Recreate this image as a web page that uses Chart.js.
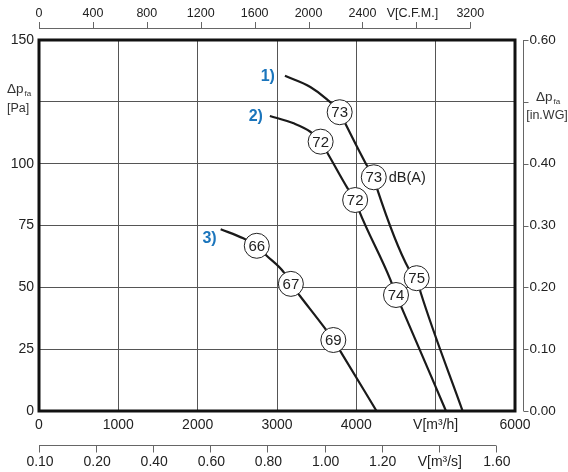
<!DOCTYPE html>
<html><head><meta charset="utf-8">
<script src="https://cdn.jsdelivr.net/npm/chart.js@4/dist/chart.umd.min.js"></script>
<style>html,body{margin:0;padding:0;background:#fff;}#wrap{width:568px;height:472px;}</style>
</head><body><div id="wrap"><canvas id="c" width="568" height="472"></canvas></div>
<script>
// ---- data (flow in m³/h, pressure in Pa) ----
const curve1Flow = [3100, 3420, 3630, 3790, 3880, 4120, 4220, 4260, 4660, 4760, 4810, 5340];
const curve1Pa   = [135.5, 131, 126, 120.8, 115, 100, 94.5, 90, 57.5, 53.7, 48, 0];
const curve2Flow = [2910, 3210, 3420, 3550, 3650, 3890, 3985, 4030, 4430, 4500, 4575, 5130];
const curve2Pa   = [119.3, 116.3, 112.9, 108.9, 103.5, 90, 85.3, 81.3, 53, 46.9, 41.5, 0];
const curve3Flow = [2290, 2575, 2745, 2870, 3080, 3175, 3290, 3605, 3710, 3815, 4255];
const curve3Pa   = [73.5, 69.8, 66.8, 62.8, 56.3, 51.4, 46.5, 33.4, 28.7, 23.3, 0];

const marker1Flow = [3790, 4220, 4760], marker1Pa = [120.8, 94.5, 53.7], marker1dB = [73, 73, 75];
const marker2Flow = [3550, 3985, 4500], marker2Pa = [108.9, 85.3, 46.9], marker2dB = [72, 72, 74];
const marker3Flow = [2745, 3175, 3710], marker3Pa = [66.8, 51.4, 28.7], marker3dB = [66, 67, 69];

const curveNames = ['1)', '2)', '3)'];
const dbUnitLabel = 'dB(A)';

// tick labels
const flowTicks = [0, 1000, 2000, 3000, 4000, 5000, 6000];
const flowLabels = ['0', '1000', '2000', '3000', '4000', 'V[m³/h]', '6000'];
const paTicks = [0, 25, 50, 75, 100, 125, 150];
const paLabels = ['0', '25', '50', '75', '100', '', '150'];
const cfmTicks = [0, 400, 800, 1200, 1600, 2000, 2400, 2800, 3200];
const cfmLabels = ['0', '400', '800', '1200', '1600', '2000', '2400', 'V[C.F.M.]', '3200'];
const m3sTicks = [0, 0.2, 0.4, 0.6, 0.8, 1.0, 1.2, 1.4, 1.6];
const m3sLabels = ['0.10', '0.20', '0.40', '0.60', '0.80', '1.00', '1.20', 'V[m³/s]', '1.60'];
const inwgTicks = [0, 0.1, 0.2, 0.3, 0.4, 0.5, 0.6];
const inwgLabels = ['0.00', '0.10', '0.20', '0.30', '0.40', '', '0.60'];

const CFM_TO_M3H = 1.699;
const M3S_TO_M3H = 3600;
const INWG_TO_PA = 250;

const FONT = '"Liberation Sans", Arial, Helvetica, sans-serif';
Chart.defaults.font.family = FONT;

const pts = (xs, ys) => xs.map((x, i) => ({x: x, y: ys[i]}));

const lineDs = (xs, ys) => ({
  data: pts(xs, ys), showLine: true, pointRadius: 0, borderColor: '#1a1a1a',
  borderWidth: 2.2, cubicInterpolationMode: 'monotone', fill: false, order: 2
});
const markDs = (xs, ys, dbs) => ({
  data: pts(xs, ys), dbs: dbs, showLine: false, pointRadius: 12.5, pointHoverRadius: 12.5,
  pointBackgroundColor: '#fff', pointBorderColor: '#222', pointBorderWidth: 1, order: 1, isMarker: true
});

const decor = {
  id: 'decor',
  afterDraw(chart) {
    const c = chart.ctx, a = chart.chartArea, X = chart.scales.x, Y = chart.scales.y;
    c.save();
    // frame
    c.strokeStyle = '#111'; c.lineWidth = 3;
    c.strokeRect(a.left, a.top, a.right - a.left, a.bottom - a.top);

    c.fillStyle = '#222';
    c.strokeStyle = '#666'; c.lineWidth = 1;
    // top CFM axis
    const tY = 28.5;
    c.beginPath();
    c.moveTo(X.getPixelForValue(0), tY);
    c.lineTo(X.getPixelForValue(cfmTicks[cfmTicks.length - 1] * CFM_TO_M3H), tY);
    cfmTicks.forEach(v => { const px = Math.round(X.getPixelForValue(v * CFM_TO_M3H)) + 0.5; c.moveTo(px, tY); c.lineTo(px, 22); });
    c.stroke();
    c.font = '12.5px ' + FONT; c.textAlign = 'center'; c.textBaseline = 'middle';
    cfmTicks.forEach((v, i) => { let px = X.getPixelForValue(v * CFM_TO_M3H); if (cfmLabels[i].length > 5) px -= 4; c.fillText(cfmLabels[i], px, 14); });

    // bottom m3/s axis
    const bY = 445.5;
    c.beginPath();
    c.moveTo(X.getPixelForValue(0), bY);
    c.lineTo(X.getPixelForValue(m3sTicks[m3sTicks.length - 1] * M3S_TO_M3H), bY);
    m3sTicks.forEach(v => { const px = Math.round(X.getPixelForValue(v * M3S_TO_M3H)) + 0.5; c.moveTo(px, bY); c.lineTo(px, 452.5); });
    c.stroke();
    c.font = '14px ' + FONT;
    m3sTicks.forEach((v, i) => c.fillText(m3sLabels[i], X.getPixelForValue(v * M3S_TO_M3H) + 1, 462));

    // right in.WG axis
    const rX = 523.5;
    c.beginPath();
    c.moveTo(rX, Y.getPixelForValue(0)); c.lineTo(rX, Y.getPixelForValue(inwgTicks[inwgTicks.length - 1] * INWG_TO_PA));
    inwgTicks.forEach(v => { const py = Math.round(Y.getPixelForValue(v * INWG_TO_PA)) + 0.5; c.moveTo(rX, py); c.lineTo(rX + 5, py); });
    c.stroke();
    c.font = '13.5px ' + FONT; c.textAlign = 'left';
    inwgTicks.forEach((v, i) => c.fillText(inwgLabels[i], rX + 6, Y.getPixelForValue(v * INWG_TO_PA)));

    // axis titles with subscript
    const dp = (x, y, size) => {
      c.textAlign = 'left'; c.textBaseline = 'alphabetic';
      c.font = size + 'px ' + FONT; c.fillText('Δp', x, y);
      const w = c.measureText('Δp').width;
      c.font = '8px ' + FONT; c.fillText('fa', x + w + 1, y + 3);
    };
    c.fillStyle = '#333';
    dp(7, 93, 13.5);
    c.font = '12.5px ' + FONT; c.textAlign = 'left'; c.textBaseline = 'alphabetic';
    c.fillText('[Pa]', 7, 112);
    dp(536, 101, 13.5);
    c.font = '12.5px ' + FONT; c.textAlign = 'center';
    c.fillText('[in.WG]', 547, 119);

    // marker numbers
    c.fillStyle = '#222'; c.font = '15px ' + FONT; c.textAlign = 'center'; c.textBaseline = 'middle';
    chart.data.datasets.forEach((ds, di) => {
      if (!ds.isMarker) return;
      chart.getDatasetMeta(di).data.forEach((p, i) => c.fillText(String(ds.dbs[i]), p.x, p.y + 1));
    });
    // dB(A) next to the second marker of curve 1
    const m = chart.getDatasetMeta(0).data[1];
    c.font = '14.5px ' + FONT; c.textAlign = 'left';
    c.fillText(dbUnitLabel, m.x + 15, m.y + 1);

    // curve names
    c.fillStyle = '#1b75bc'; c.font = 'bold 16px ' + FONT; c.textAlign = 'right';
    const offs = [[-10, 1], [-7, 1], [-4, 9]];
    [3, 4, 5].forEach((di, k) => {
      const p = chart.getDatasetMeta(di).data[0];
      c.fillText(curveNames[k], p.x + offs[k][0], p.y + offs[k][1]);
    });
    c.restore();
  }
};

new Chart(document.getElementById('c'), {
  type: 'scatter',
  data: { datasets: [
    markDs(marker1Flow, marker1Pa, marker1dB),
    markDs(marker2Flow, marker2Pa, marker2dB),
    markDs(marker3Flow, marker3Pa, marker3dB),
    lineDs(curve1Flow, curve1Pa),
    lineDs(curve2Flow, curve2Pa),
    lineDs(curve3Flow, curve3Pa)
  ]},
  options: {
    responsive: false, animation: false, devicePixelRatio: 1,
    layout: { padding: { top: 40, right: 53, left: 0, bottom: 0 } },
    plugins: { legend: { display: false }, tooltip: { enabled: false } },
    events: [],
    scales: {
      x: {
        type: 'linear', position: 'bottom', min: 0, max: 6000,
        afterFit(s) { s.height = 61; },
        afterBuildTicks(s) { s.ticks = flowTicks.map(v => ({value: v})); },
        ticks: { autoSkip: false, maxRotation: 0, padding: 6, color: '#222', font: { size: 14 },
          callback: (v) => flowLabels[flowTicks.indexOf(v)] },
        grid: { color: '#555', lineWidth: 1, drawTicks: false },
        border: { display: false }
      },
      y: {
        type: 'linear', position: 'left', min: 0, max: 150,
        afterFit(s) { s.width = 39; },
        afterBuildTicks(s) { s.ticks = paTicks.map(v => ({value: v})); },
        ticks: { autoSkip: false, padding: 5, color: '#222', font: { size: 14 },
          callback: (v) => paLabels[paTicks.indexOf(v)] },
        grid: { color: '#555', lineWidth: 1, drawTicks: false },
        border: { display: false }
      }
    }
  },
  plugins: [decor]
});
</script></body></html>
